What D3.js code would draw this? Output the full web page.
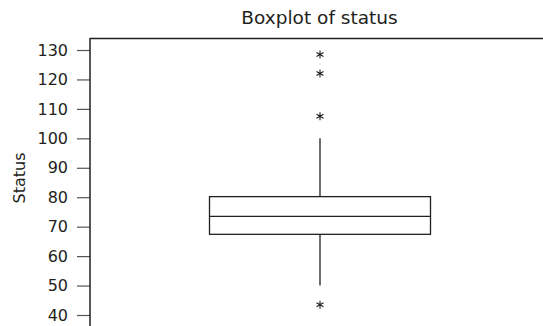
<!DOCTYPE html>
<html>
<head>
<meta charset="utf-8">
<script src="https://cdn.jsdelivr.net/npm/d3@7"></script>
<style>
  body { margin: 0; background: #fff; }
  text { font-family: "DejaVu Sans", sans-serif; fill: #231f20; }
</style>
</head>
<body>
<svg id="grafica"></svg>
<script>
const cuartiles = [67.4, 73.5, 80.2];   // Q1, mediana, Q3
const bigotes = [50, 100];              // minimo y maximo sin atipicos
const atipicos = [128.5, 122, 107.5, 43.5];
const ticksY = [40, 50, 60, 70, 80, 90, 100, 110, 120, 130];

const width = 543;
const height = 326;
const margin = { top: 38, left: 90 };

const svg = d3.select("svg#grafica")
  .attr("width", width)
  .attr("height", height);

const y = d3.scaleLinear()
  .domain([40, 130])
  .range([315, 50]);

const x = d3.scaleLinear()
  .domain([0, 1])
  .range([209.5, 430.5]);

// titulo
svg.append("text")
  .attr("x", 319.5)
  .attr("y", 23.5)
  .attr("text-anchor", "middle")
  .style("font-size", "18.5px")
  .text("Boxplot of status");

// etiqueta eje y
svg.append("text")
  .attr("transform", "translate(25,178) rotate(-90)")
  .attr("text-anchor", "middle")
  .style("font-size", "16px")
  .text("Status");

// borde superior
svg.append("line")
  .attr("x1", margin.left).attr("x2", width)
  .attr("y1", margin.top + 0.5).attr("y2", margin.top + 0.5)
  .attr("stroke", "#231f20").attr("stroke-width", 1.5);

// eje y
const ejeY = svg.append("g")
  .attr("transform", `translate(${margin.left},0)`)
  .call(d3.axisLeft(y).tickValues(ticksY).tickSize(13).tickPadding(9).tickSizeOuter(0));

ejeY.select(".domain").remove();
ejeY.selectAll(".tick line").attr("stroke", "#555").attr("stroke-width", 1.2);
ejeY.selectAll(".tick text").style("font-size", "16px").attr("fill", "#231f20").attr("font-family", "DejaVu Sans, sans-serif");

svg.append("line")
  .attr("x1", margin.left).attr("x2", margin.left)
  .attr("y1", margin.top).attr("y2", height)
  .attr("stroke", "#231f20").attr("stroke-width", 1.5);

const cx = x(0.5);
const g = svg.append("g").attr("stroke", "#231f20").attr("stroke-width", 1.3).attr("fill", "none");

// bigotes
g.append("line")
  .attr("x1", cx).attr("x2", cx)
  .attr("y1", y(bigotes[1])).attr("y2", y(cuartiles[2]));
g.append("line")
  .attr("x1", cx).attr("x2", cx)
  .attr("y1", y(cuartiles[0])).attr("y2", y(bigotes[0]));

// caja
g.append("rect")
  .attr("x", x(0)).attr("width", x(1) - x(0))
  .attr("y", y(cuartiles[2])).attr("height", y(cuartiles[0]) - y(cuartiles[2]))
  .attr("fill", "#fff");
g.append("line")
  .attr("x1", x(0)).attr("x2", x(1))
  .attr("y1", y(cuartiles[1])).attr("y2", y(cuartiles[1]));

// atipicos como asteriscos
const r = 4;
const estrella = `M0,${-r}V${r}M${-r*0.87},${-r/2}L${r*0.87},${r/2}M${-r*0.87},${r/2}L${r*0.87},${-r/2}`;
g.selectAll("path.atipico")
  .data(atipicos)
  .join("path")
  .attr("class", "atipico")
  .attr("d", estrella)
  .attr("stroke-width", 1.1)
  .attr("transform", d => `translate(${cx},${y(d)})`);
</script>
</body>
</html>
